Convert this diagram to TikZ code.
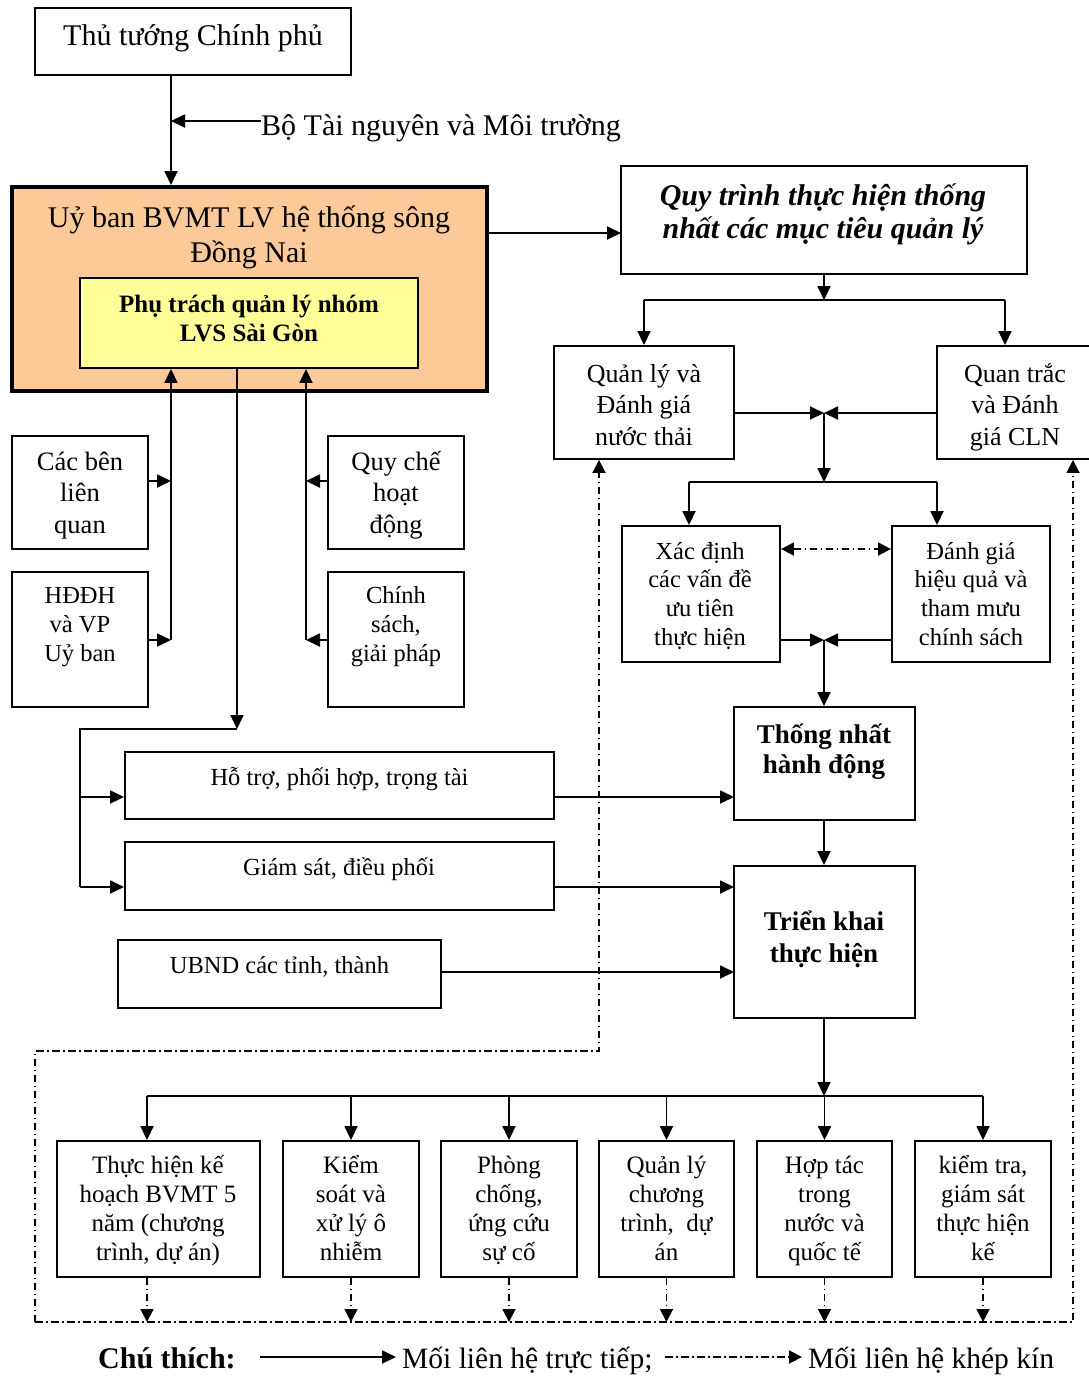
\documentclass[tikz,border=0pt]{standalone}
\usepackage{fontspec}
\setmainfont{Liberation Serif}
\usetikzlibrary{arrows.meta,fit}

\definecolor{peach}{HTML}{FCCA98}
\definecolor{paleyellow}{HTML}{FFFF99}

% font size / line spacing in one go
\newcommand\fs[2]{\fontsize{#1}{#2}\selectfont}
% centred multi-line block whose reference point is the first baseline
\newcommand\ml[1]{\vtop{\lineskiplimit=-1000pt\lineskip=0pt\halign{\hfil##\hfil\cr#1\crcr}}}

\tikzset{
  box/.style={draw, line width=1.9pt, inner sep=0pt},
  ln/.style={line width=1.8pt},
  arr/.style={ln, -{Triangle[length=14pt,width=13pt]}},
  dd/.style={line width=1.8pt, dash pattern=on 7.5pt off 3.5pt on 1.5pt off 3.5pt},
  darr/.style={dd, -{Triangle[length=13pt,width=13pt]}},
  txt/.style={anchor=base, inner sep=0pt},
}

\begin{document}
\begin{tikzpicture}[x=1pt,y=-1pt]
\useasboundingbox (0,0) rectangle (1088,1377);

% ---------------- boxes ----------------
\node[box, fit={(35,8) (351,75)}] (thu) {};
\node[box, line width=4pt, fill=peach, fit={(12,187) (487,391)}] (uyban) {};
\node[box, fill=paleyellow, fit={(80,278) (418,368)}] (phutrach) {};
\node[box, fit={(621,166) (1027,274)}] (quytrinh) {};
\node[box, fit={(554,346) (734,459)}] (quanly) {};
\node[box, fit={(937,346) (1095,459)}] (quantrac) {};
\node[box, fit={(622,526) (780,662)}] (xacdinh) {};
\node[box, fit={(892,526) (1050,662)}] (danhgia) {};
\node[box, fit={(734,707) (915,820)}] (thongnhat) {};
\node[box, fit={(734,866) (915,1018)}] (trienkhai) {};
\node[box, fit={(12,436) (148,549)}] (cacben) {};
\node[box, fit={(12,572) (148,707)}] (hddh) {};
\node[box, fit={(328,436) (464,549)}] (quyche) {};
\node[box, fit={(328,572) (464,707)}] (chinhsach) {};
\node[box, fit={(125,752) (554,819)}] (hotro) {};
\node[box, fit={(125,842) (554,910)}] (giamsat) {};
\node[box, fit={(118,940) (441,1008)}] (ubnd) {};
\node[box, fit={(57,1141) (260,1277)}] (b1) {};
\node[box, fit={(283,1141) (419,1277)}] (b2) {};
\node[box, fit={(441,1141) (577,1277)}] (b3) {};
\node[box, fit={(599,1141) (734,1277)}] (b4) {};
\node[box, fit={(757,1141) (892,1277)}] (b5) {};
\node[box, fit={(915,1141) (1051,1277)}] (b6) {};

% ---------------- texts ----------------
\node[txt, font=\fs{30}{35}] (thuT) at (193,45) {Thủ tướng Chính phủ};
\node[txt, anchor=base west, font=\fs{30}{35}] (bo) at (261,135) {Bộ Tài nguyên và Môi trường};
\node[txt, font=\fs{30}{35}] (uybanT) at (249,227) {\ml{Uỷ ban BVMT LV hệ thống sông\cr Đồng Nai}};
\node[txt, font=\fs{25}{29}\bfseries] (phutrachT) at (249,312) {\ml{Phụ trách quản lý nhóm\cr LVS Sài Gòn}};
\node[txt, font=\fs{30}{33}\bfseries\itshape] (quytrinhT) at (823,205) {\ml{Quy trình thực hiện thống\cr nhất các mục tiêu quản lý}};
\node[txt, font=\fs{26}{31.5}] (quanlyT) at (644,382) {\ml{Quản lý và\cr Đánh giá\cr nước thải}};
\node[txt, font=\fs{26}{31.5}] (quantracT) at (1015,382) {\ml{Quan trắc\cr và Đánh\cr giá CLN}};
\node[txt, font=\fs{24.5}{28.7}] (xacdinhT) at (700,559) {\ml{Xác định\cr các vấn đề\cr ưu tiên\cr thực hiện}};
\node[txt, font=\fs{24.5}{28.7}] (danhgiaT) at (971,559) {\ml{Đánh giá\cr hiệu quả và\cr tham mưu\cr chính sách}};
\node[txt, font=\fs{26.5}{31.5}] (cacbenT) at (80,470) {\ml{Các bên\cr liên\cr quan}};
\node[txt, font=\fs{26.5}{31.5}] (quycheT) at (396,470) {\ml{Quy chế\cr hoạt\cr động}};
\node[txt, font=\fs{24.5}{29}] (hddhT) at (80,603) {\ml{HĐĐH\cr và VP\cr Uỷ ban}};
\node[txt, font=\fs{24.5}{29}] (chinhsachT) at (396,603) {\ml{Chính\cr sách,\cr giải pháp}};
\node[txt, font=\fs{24.5}{29}] (hotroT) at (339.5,785) {Hỗ trợ, phối hợp, trọng tài};
\node[txt, font=\fs{24.5}{29}] (giamsatT) at (339,875) {Giám sát, điều phối};
\node[txt, font=\fs{24.5}{29}] (ubndT) at (279.5,973) {UBND các tỉnh, thành};
\node[txt, font=\fs{27}{30}\bfseries] (thongnhatT) at (824,743) {\ml{Thống nhất\cr hành động}};
\node[txt, font=\fs{27}{32}\bfseries] (trienkhaiT) at (824,930) {\ml{Triển khai\cr thực hiện}};
\node[txt, font=\fs{25}{29}] (b1T) at (158,1173) {\ml{Thực hiện kế\cr hoạch BVMT 5\cr năm (chương\cr trình, dự án)}};
\node[txt, font=\fs{25}{29}] (b2T) at (351,1173) {\ml{Kiểm\cr soát và\cr xử lý ô\cr nhiễm}};
\node[txt, font=\fs{25}{29}] (b3T) at (509,1173) {\ml{Phòng\cr chống,\cr ứng cứu\cr sự cố}};
\node[txt, font=\fs{25}{29}] (b4T) at (666.5,1173) {\ml{Quản lý\cr chương\cr trình,\ \ dự\cr án}};
\node[txt, font=\fs{25}{29}] (b5T) at (824.5,1173) {\ml{Hợp tác\cr trong\cr nước và\cr quốc tế}};
\node[txt, font=\fs{25}{29}] (b6T) at (983,1173) {\ml{kiểm tra,\cr giám sát\cr thực hiện\cr kế}};

% ---------------- junction points ----------------
\coordinate (jTop) at (171,121);
\coordinate (jQ)   at (621,233);
\coordinate (jB1)  at (824,300);
\coordinate (jB1r) at (1005,300);
\coordinate (j2)   at (824,413);
\coordinate (jB2)  at (824,482);
\coordinate (jB2l) at (689,482);
\coordinate (jB2r) at (937,482);
\coordinate (jD)   at (836,549);
\coordinate (j3)   at (824,640);
\coordinate (in1)  at (734,797);
\coordinate (in2)  at (734,887);
\coordinate (in3)  at (734,972);
\coordinate (jB4)  at (824,1096);
\coordinate (jb1)  at (147,1096);
\coordinate (vLa)  at (171,481);
\coordinate (vL)   at (171,640);
\coordinate (vRa)  at (306,481);
\coordinate (vR)   at (306,640);
\coordinate (vM)   at (237,729);
\coordinate (vMl)  at (80,729);
\coordinate (lb1)  at (80,797);
\coordinate (lb2)  at (80,887);
\coordinate (loopBL) at (35,1322);
\coordinate (loopBR) at (1073,1322);
\coordinate (loopTL) at (35,1051);
\coordinate (loopTR) at (599,1051);

% ---------------- direct links ----------------
\draw[arr] (jTop |- thu.south) -- (jTop |- uyban.north);
\draw[arr] (bo.west |- jTop) -- (jTop);
\draw[arr] (uyban.east |- jQ) -- (jQ);

\draw[arr] (quytrinh.south) -- (jB1);
\draw[ln] (quanly.north |- jB1) -- (jB1r);
\draw[arr] (quanly.north |- jB1) -- (quanly.north);
\draw[arr] (jB1r) -- (jB1r |- quantrac.north);

\draw[arr] (quanly.east |- j2) -- (j2);
\draw[arr] (quantrac.west |- j2) -- (j2);
\draw[arr] (j2) -- (jB2);
\draw[ln] (jB2l) -- (jB2r);
\draw[arr] (jB2l) -- (jB2l |- xacdinh.north);
\draw[arr] (jB2r) -- (jB2r |- danhgia.north);

\draw[dd, {Triangle[length=13pt,width=13pt]}-{Triangle[length=13pt,width=13pt]}]
  (xacdinh.east |- jD) -- (danhgia.west |- jD);

\draw[arr] (xacdinh.east |- j3) -- (j3);
\draw[arr] (danhgia.west |- j3) -- (j3);
\draw[arr] (j3) -- (j3 |- thongnhat.north);
\draw[arr] (j3 |- thongnhat.south) -- (j3 |- trienkhai.north);

\draw[arr] (hotro.east |- in1) -- (in1);
\draw[arr] (giamsat.east |- in2) -- (in2);
\draw[arr] (ubnd.east |- in3) -- (in3);

\draw[arr] (jB4 |- trienkhai.south) -- (jB4);
\draw[ln] (jb1) -- (jb1 -| b6.north);
\draw[arr] (jb1) -- (jb1 |- b1.north);
\foreach \b in {b2,b3,b4,b5,b6}
  \draw[arr] (\b.north |- jb1) -- (\b.north);

% left-hand feeders into the inner committee box
\draw[arr] (cacben.east |- vLa) -- (vLa);
\draw[arr] (hddh.east |- vL) -- (vL);
\draw[arr] (vL) -- (vL |- phutrach.south);
\draw[arr] (quyche.west |- vRa) -- (vRa);
\draw[arr] (chinhsach.west |- vR) -- (vR);
\draw[arr] (vR) -- (vR |- phutrach.south);
\draw[arr] (vM |- phutrach.south) -- (vM);
\draw[ln] (vM) -- (vMl) -- (lb2);
\draw[arr] (lb1) -- (lb1 -| hotro.west);
\draw[arr] (lb2) -- (lb2 -| giamsat.west);

% ---------------- closed feedback loop ----------------
\draw[darr] (jb1 |- b1.south) -- (jb1 |- loopBL);
\foreach \b in {b2,b3,b4,b5,b6}
  \draw[darr] (\b.south) -- (\b.south |- loopBL);
\draw[darr] (loopBL) -- (loopBR) -- (loopBR |- quantrac.south);
\draw[darr] (loopBL) -- (loopTL) -- (loopTR) -- (loopTR |- quanly.south);

% ---------------- legend ----------------
\node[txt, anchor=base west, font=\fs{30}{35}\bfseries] (ct) at (98,1368) {Chú thích:};
\node[txt, anchor=base west, font=\fs{29.5}{35}] (lg1) at (402,1368) {Mối liên hệ trực tiếp;};
\node[txt, anchor=base west, font=\fs{29.5}{35}] (lg2) at (808,1368) {Mối liên hệ khép kín};
\coordinate (lgA) at (260,1357);
\coordinate (lgB) at (665,1357);
\draw[arr] (lgA) -- ([xshift=-6pt]lg1.west |- lgA);
\draw[darr] (lgB) -- ([xshift=-6pt]lg2.west |- lgB);
\end{tikzpicture}
\end{document}
